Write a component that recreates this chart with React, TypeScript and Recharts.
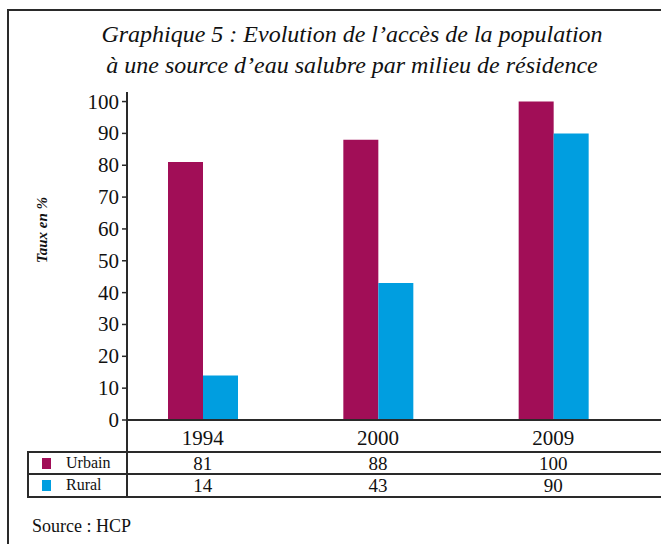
import React from 'react';
import { BarChart, Bar, XAxis, YAxis } from 'recharts';

const years = ['1994', '2000', '2009'];
const urbain = [81, 88, 100];
const rural = [14, 43, 90];
const yTicks = [0, 10, 20, 30, 40, 50, 60, 70, 80, 90, 100];

const URB = '#A10E57';
const RUR = '#009EE0';
const INK = '#2a2a2a';
const SERIF = '"Liberation Serif", "Times New Roman", serif';

const data = years.map((y, i) => ({ year: y, urbain: urbain[i], rural: rural[i] }));

// year label + the two table values under each category
const TableTick = (props: any) => {
  const { x, y, payload, index } = props;
  return (
    <g fontFamily={SERIF} fill="#111" textAnchor="middle">
      <text x={x} y={y + 25} fontSize={21}>{payload.value}</text>
      <text x={x} y={y + 50} fontSize={19}>{urbain[index]}</text>
      <text x={x} y={y + 72} fontSize={19}>{rural[index]}</text>
    </g>
  );
};

const YTick = (props: any) => {
  const { x, y, payload } = props;
  return (
    <text x={x} y={y} dy={7} textAnchor="end" fontFamily={SERIF} fontSize={21} fill="#111">
      {payload.value}
    </text>
  );
};

const hLine = (top: number, left: number, width: number) => (
  <div style={{ position: 'absolute', top, left, width, height: 2, background: INK }} />
);
const vLine = (left: number, top: number, height: number) => (
  <div style={{ position: 'absolute', top, left, width: 2, height, background: INK }} />
);

const App: React.FC = () => (
  <div style={{ position: 'absolute', left: 0, top: 0, width: 661, height: 544, overflow: 'hidden', background: '#fff', fontFamily: SERIF }}>
    {/* frame */}
    <div style={{ position: 'absolute', left: 7, top: 9, width: 700, height: 600, borderLeft: `2px solid ${INK}`, borderTop: `2px solid ${INK}` }} />

    <div style={{ position: 'absolute', left: 52, top: 19, width: 600, textAlign: 'center', fontStyle: 'italic', fontSize: 24, lineHeight: '31px', color: '#111' }}>
      Graphique 5 : Evolution de l’accès de la population
      <br />
      à une source d’eau salubre par milieu de résidence
    </div>

    <div style={{ position: 'absolute', left: 42, top: 230, transform: 'translate(-50%, -50%) rotate(-90deg)', fontSize: 15, fontStyle: 'italic', fontWeight: 'bold', whiteSpace: 'nowrap', color: '#111' }}>
      Taux en %
    </div>

    <div style={{ position: 'absolute', left: 0, top: 0 }}>
      <BarChart width={661} height={544} data={data} margin={{ top: 92, right: 0, bottom: 94, left: 67 }} barGap={0} barSize={35} style={{ fontFamily: SERIF }}>
        <XAxis
          dataKey="year"
          height={30}
          tickLine={false}
          tickSize={0}
          tickMargin={0}
          axisLine={{ stroke: INK, strokeWidth: 2 }}
          padding={{ left: -12, right: 20 }}
          tick={<TableTick />}
          interval={0}
        />
        <YAxis
          width={60}
          domain={[0, 103]}
          ticks={yTicks}
          interval={0}
          tickSize={5}
          tickMargin={3}
          axisLine={{ stroke: INK, strokeWidth: 2 }}
          tickLine={{ stroke: INK, strokeWidth: 1.5 }}
          tick={<YTick />}
        />
        <Bar dataKey="urbain" fill={URB} isAnimationActive={false} />
        <Bar dataKey="rural" fill={RUR} isAnimationActive={false} />
      </BarChart>
    </div>

    {/* data table grid */}
    {hLine(451, 27, 640)}
    {hLine(473, 27, 640)}
    {hLine(496, 27, 640)}
    {vLine(27, 451, 47)}
    {vLine(126, 420, 78)}

    <div style={{ position: 'absolute', left: 42, top: 458, width: 9, height: 11, background: URB }} />
    <div style={{ position: 'absolute', left: 66, top: 454, fontSize: 16, color: '#111' }}>Urbain</div>
    <div style={{ position: 'absolute', left: 42, top: 480, width: 9, height: 11, background: RUR }} />
    <div style={{ position: 'absolute', left: 66, top: 476, fontSize: 16, color: '#111' }}>Rural</div>

    <div style={{ position: 'absolute', left: 32, top: 516, fontSize: 18, color: '#111' }}>Source : HCP</div>
  </div>
);

export default App;
